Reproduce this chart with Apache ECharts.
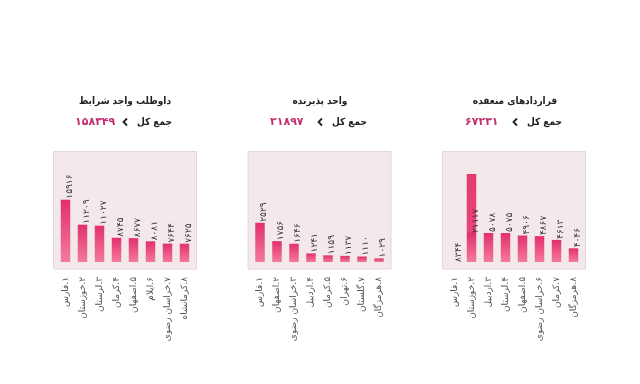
<!DOCTYPE html>
<html>
<head>
<meta charset="utf-8">
<script src="https://cdn.jsdelivr.net/npm/echarts@6/dist/echarts.min.js"></script>
<style>
html,body{margin:0;padding:0;background:#fff;}
#c{width:640px;height:384px;}
</style>
</head>
<body>
<div id="c"></div>
<script>
// ---- data ----
const titles = ['قراردادهای منعقده', 'واحد پذیرنده', 'داوطلب واجد شرایط'];
const totals = [67231, 21897, 158349];
const totalLabel = 'جمع کل';

const categories1 = ['۱.فارس', '۲.خوزستان', '۳.اردبیل', '۴.لرستان', '۵.اصفهان', '۶.خراسان رضوی', '۷.کرمان', '۸.هرمزگان'];
const values1 = [8344, 21117, 5078, 5075, 4906, 4867, 4613, 4046];

const categories2 = ['۱.فارس', '۲.اصفهان', '۳.خراسان رضوی', '۴.اردبیل', '۵.کرمان', '۶.تهران', '۷.گلستان', '۸.هرمزگان'];
const values2 = [2529, 1756, 1646, 1241, 1159, 1137, 1110, 1029];

const categories3 = ['۱.فارس', '۲.خوزستان', '۳.لرستان', '۴.کرمان', '۵.اصفهان', '۶.ایلام', '۷.خراسان رضوی', '۸.کرمانشاه'];
const values3 = [15916, 11209, 11027, 8745, 8677, 8081, 7644, 7625];

// ---- right-to-left text rendering on the canvas ----
(function () {
  const P = CanvasRenderingContext2D.prototype;
  const of = P.fillText;
  P.fillText = function () { this.direction = 'rtl'; return of.apply(this, arguments); };
})();

// ---- helpers ----
const FA = '۰۱۲۳۴۵۶۷۸۹';
const toFa = n => String(n).replace(/\d/g, d => FA[d]);
const FONT = '"DejaVu Sans", sans-serif';
const FONT_C = '"DejaVu Sans Condensed", "DejaVu Sans", sans-serif';

const chart = echarts.init(document.getElementById('c'), null, {renderer: 'canvas'});

const panels = [
  {cats: categories1, vals: values1, left: 446, center: 515, min: 3122, max: 9056},
  {cats: categories2, vals: values2, left: 251.5, center: 320, min: 880, max: 4577},
  {cats: categories3, vals: values3, left: 57, center: 125, min: 4183, max: 20755}
];
const GRID_TOP = 174, GRID_H = 88, GRID_W = 136, BAR_W = 9.5;
const LABEL_DX = BAR_W / 2 + 4;

const barGradient = () => new echarts.graphic.LinearGradient(0, 0, 0, 1, [
  {offset: 0, color: '#e2306b'},
  {offset: 1, color: '#f47a9e'}
]);

const grids = [], xAxes = [], yAxes = [], series = [], graphics = [];

panels.forEach((p, i) => {
  grids.push({left: p.left, top: GRID_TOP, width: GRID_W, height: GRID_H, containLabel: false});
  xAxes.push({
    type: 'category', gridIndex: i, data: p.cats,
    axisLine: {show: false}, axisTick: {show: false},
    axisLabel: {interval: 0, rotate: 90, margin: 15, fontSize: 9, color: '#555', fontFamily: FONT}
  });
  yAxes.push({type: 'value', gridIndex: i, min: p.min, max: p.max, show: false, splitLine: {show: false}});

  const data = p.vals.map((v, j) => {
    const item = {value: v};
    if (i === 0 && j === 0) {
      item.itemStyle = {color: 'rgba(0,0,0,0)'};
      item.label = {position: [LABEL_DX, '100%']};
    }
    if (i === 0 && j === 1) {
      item.itemStyle = {color: new echarts.graphic.LinearGradient(0, 0, 0, 1, [
        {offset: 0, color: '#e63a6f'},
        {offset: 0.66, color: '#e8457a'},
        {offset: 0.67, color: '#e2306b'},
        {offset: 1, color: '#f47a9e'}
      ])};
      item.label = {position: [LABEL_DX, '67%']};
    }
    return item;
  });

  series.push({
    type: 'bar', xAxisIndex: i, yAxisIndex: i, data: data,
    barWidth: BAR_W, clip: true,
    itemStyle: {color: barGradient()},
    label: {
      show: true, position: [LABEL_DX, -1], rotate: 90,
      align: 'left', verticalAlign: 'middle',
      fontSize: 9, color: '#333', fontFamily: FONT,
      formatter: prm => toFa(prm.value)
    },
    animation: false
  });

  // background box
  graphics.push({
    type: 'rect', z: -10, silent: true,
    shape: {x: p.left - 3.5, y: 151.5, width: GRID_W + 7, height: 117.5},
    style: {fill: '#f3e9ea', stroke: '#e4d6d8', lineWidth: 1}
  });
  // title
  graphics.push({
    type: 'text', x: p.center, y: 101, silent: true,
    style: {text: titles[i], fill: '#222', font: 'bold 10px ' + FONT_C, align: 'center', verticalAlign: 'middle'}
  });
  // total line
  graphics.push({
    type: 'text', x: p.center + 47, y: 122, silent: true,
    style: {text: totalLabel, fill: '#222', font: 'bold 10px ' + FONT_C, align: 'right', verticalAlign: 'middle'}
  });
  graphics.push({
    type: 'polyline', silent: true,
    shape: {points: [[p.center + 2, 118.5], [p.center - 1.5, 122], [p.center + 2, 125.5]]},
    style: {stroke: '#222', lineWidth: 1.8, fill: null}
  });
  graphics.push({
    type: 'text', x: p.center - 50, y: 122, silent: true,
    style: {text: toFa(totals[i]), fill: '#c2306e', font: 'bold 11px ' + FONT, align: 'left', verticalAlign: 'middle'}
  });
});

chart.setOption({
  animation: false,
  backgroundColor: '#ffffff',
  grid: grids, xAxis: xAxes, yAxis: yAxes, series: series,
  graphic: graphics
});
</script>
</body>
</html>
